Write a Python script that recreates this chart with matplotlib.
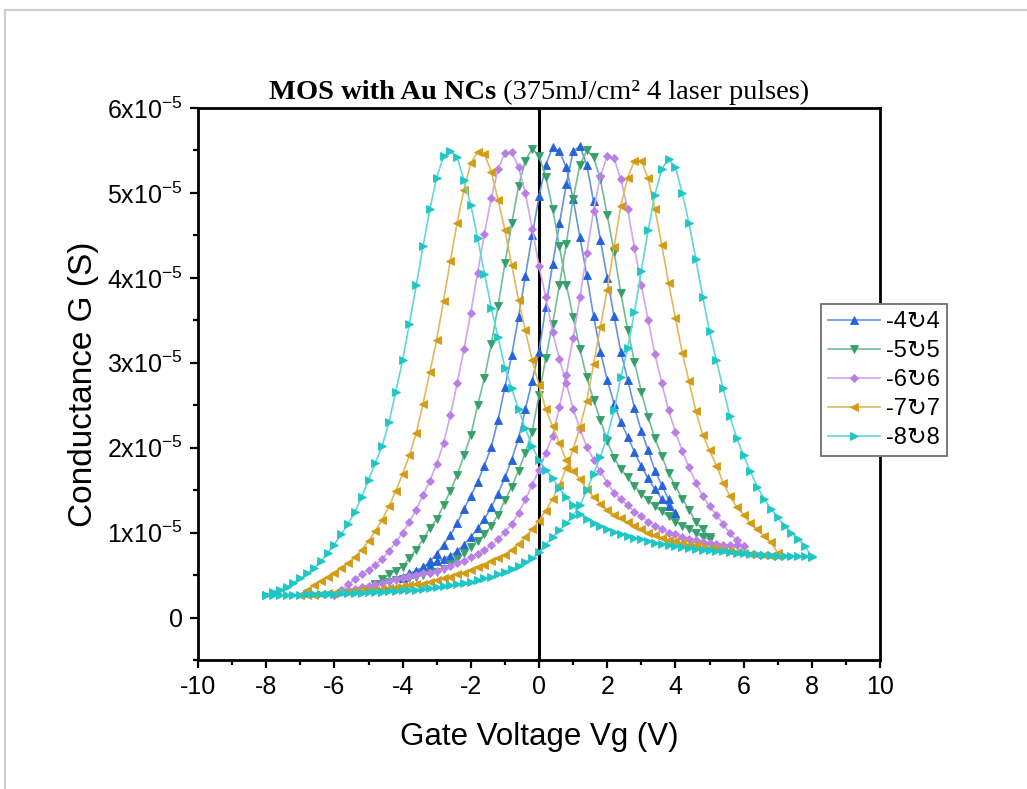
import numpy as np
import matplotlib
matplotlib.use("Agg")
import matplotlib.pyplot as plt
from matplotlib.colors import to_rgb
from matplotlib.lines import Line2D
from matplotlib.ticker import MultipleLocator, FuncFormatter
from matplotlib.offsetbox import TextArea, HPacker, AnchoredOffsetbox

plt.rcParams['font.family'] = ['Liberation Sans', 'DejaVu Sans']
plt.rcParams['mathtext.fontset'] = 'custom'
plt.rcParams['mathtext.rm'] = 'Liberation Sans'
plt.rcParams['mathtext.it'] = 'Liberation Sans:italic'
plt.rcParams['mathtext.bf'] = 'Liberation Sans:bold'

# Sweep amplitudes (V) and voltage step of each loop
sweep_limits = [4, 5, 6, 7, 8]
step = 0.2
labels = ["-4\u21bb4", "-5\u21bb5", "-6\u21bb6", "-7\u21bb7", "-8\u21bb8"]

# Conductance in units of 1e-5 S, sampled every 0.2 V from -Vmax to +Vmax
# up = sweep from -Vmax to +Vmax, down = return sweep (listed from -Vmax to +Vmax)
G_up_4 = [0.47, 0.51, 0.55, 0.59, 0.66, 0.75, 0.86, 0.97, 1.11, 1.28,
          1.43, 1.60, 1.79, 2.01, 2.33, 2.71, 3.09, 3.54, 4.02, 4.50,
          4.96, 5.33, 5.54, 5.49, 5.30, 4.93, 4.48, 4.03, 3.55, 3.13,
          2.80, 2.52, 2.30, 2.13, 1.95, 1.78, 1.64, 1.51, 1.40, 1.31,
          1.23]
G_down_4 = [0.48, 0.52, 0.55, 0.59, 0.62, 0.66, 0.69, 0.73, 0.78, 0.86,
            0.95, 1.05, 1.16, 1.30, 1.46, 1.65, 1.86, 2.11, 2.45, 2.79,
            3.13, 3.66, 4.16, 4.64, 5.10, 5.49, 5.55, 5.33, 4.90, 4.45,
            4.00, 3.55, 3.13, 2.80, 2.47, 2.20, 1.97, 1.73, 1.56, 1.39,
            1.23]

G_up_5 = [0.34, 0.40, 0.45, 0.51, 0.55, 0.60, 0.70, 0.80, 0.92, 1.05,
          1.16, 1.32, 1.49, 1.68, 1.91, 2.15, 2.50, 2.82, 3.22, 3.67,
          4.17, 4.64, 5.08, 5.38, 5.52, 5.44, 5.19, 4.81, 4.37, 3.92,
          3.54, 3.16, 2.83, 2.56, 2.33, 2.08, 1.88, 1.75, 1.65, 1.55,
          1.46, 1.38, 1.31, 1.25, 1.19, 1.13, 1.08, 1.04, 0.99, 0.95,
          0.92]
G_down_5 = [0.34, 0.38, 0.40, 0.42, 0.44, 0.45, 0.47, 0.48, 0.50, 0.52,
            0.54, 0.57, 0.63, 0.69, 0.76, 0.83, 0.90, 0.98, 1.08, 1.21,
            1.38, 1.54, 1.73, 1.94, 2.19, 2.62, 3.06, 3.46, 3.92, 4.40,
            4.93, 5.33, 5.50, 5.42, 5.16, 4.74, 4.31, 3.82, 3.39, 3.01,
            2.66, 2.36, 2.11, 1.90, 1.70, 1.55, 1.40, 1.27, 1.12, 1.04,
            0.95]

G_up_6 = [0.27, 0.33, 0.39, 0.45, 0.51, 0.56, 0.62, 0.69, 0.78, 0.89,
          1.00, 1.13, 1.27, 1.44, 1.61, 1.81, 2.05, 2.38, 2.76, 3.16,
          3.59, 4.06, 4.52, 4.94, 5.28, 5.47, 5.48, 5.30, 5.00, 4.58,
          4.14, 3.77, 3.36, 3.04, 2.76, 2.46, 2.22, 2.01, 1.86, 1.72,
          1.59, 1.47, 1.39, 1.32, 1.24, 1.19, 1.13, 1.08, 1.04, 1.00,
          0.98, 0.95, 0.93, 0.91, 0.89, 0.88, 0.87, 0.86, 0.85, 0.85,
          0.84]
G_down_6 = [0.27, 0.30, 0.32, 0.34, 0.36, 0.37, 0.39, 0.41, 0.43, 0.45,
            0.47, 0.49, 0.50, 0.52, 0.53, 0.55, 0.58, 0.61, 0.64, 0.67,
            0.71, 0.75, 0.79, 0.85, 0.92, 1.01, 1.10, 1.23, 1.39, 1.56,
            1.74, 1.94, 2.14, 2.48, 2.86, 3.29, 3.77, 4.29, 4.79, 5.20,
            5.43, 5.41, 5.16, 4.81, 4.35, 3.92, 3.50, 3.10, 2.76, 2.44,
            2.19, 1.96, 1.77, 1.59, 1.43, 1.31, 1.21, 1.10, 0.99, 0.91,
            0.84]

G_up_7 = [0.26, 0.32, 0.38, 0.43, 0.48, 0.53, 0.58, 0.64, 0.71, 0.80,
          0.90, 1.02, 1.15, 1.31, 1.49, 1.69, 1.91, 2.17, 2.52, 2.89,
          3.27, 3.73, 4.20, 4.65, 5.04, 5.35, 5.48, 5.46, 5.25, 4.92,
          4.56, 4.15, 3.74, 3.38, 3.03, 2.74, 2.45, 2.25, 2.05, 1.85,
          1.73, 1.63, 1.51, 1.42, 1.34, 1.27, 1.21, 1.17, 1.12, 1.08,
          1.04, 1.00, 0.97, 0.94, 0.91, 0.90, 0.88, 0.86, 0.85, 0.83,
          0.82, 0.81, 0.79, 0.78, 0.77, 0.76, 0.75, 0.74, 0.74, 0.73,
          0.73]
G_down_7 = [0.26, 0.27, 0.27, 0.28, 0.29, 0.29, 0.30, 0.30, 0.31, 0.32,
            0.32, 0.33, 0.34, 0.35, 0.36, 0.37, 0.38, 0.39, 0.40, 0.42,
            0.44, 0.46, 0.48, 0.51, 0.53, 0.56, 0.59, 0.62, 0.66, 0.70,
            0.74, 0.80, 0.87, 0.95, 1.04, 1.14, 1.26, 1.40, 1.56, 1.76,
            1.98, 2.24, 2.55, 2.98, 3.42, 3.86, 4.36, 4.85, 5.18, 5.38,
            5.38, 5.17, 4.81, 4.39, 3.94, 3.53, 3.12, 2.78, 2.43, 2.15,
            1.97, 1.79, 1.59, 1.43, 1.30, 1.21, 1.11, 1.04, 0.96, 0.89,
            0.76]

G_up_8 = [0.27, 0.30, 0.33, 0.36, 0.41, 0.46, 0.52, 0.58, 0.66, 0.76,
          0.86, 0.98, 1.10, 1.24, 1.42, 1.62, 1.82, 2.02, 2.30, 2.66,
          3.03, 3.46, 3.91, 4.37, 4.81, 5.18, 5.43, 5.49, 5.42, 5.15,
          4.86, 4.47, 4.05, 3.65, 3.30, 2.94, 2.70, 2.45, 2.23, 2.02,
          1.85, 1.74, 1.64, 1.52, 1.42, 1.32, 1.22, 1.16, 1.11, 1.08,
          1.04, 1.01, 0.98, 0.96, 0.94, 0.92, 0.90, 0.88, 0.87, 0.85,
          0.84, 0.83, 0.82, 0.81, 0.80, 0.79, 0.78, 0.78, 0.77, 0.76,
          0.76, 0.75, 0.75, 0.74, 0.74, 0.73, 0.73, 0.72, 0.72, 0.72,
          0.71]
G_down_8 = [0.27, 0.27, 0.27, 0.27, 0.27, 0.27, 0.28, 0.28, 0.28, 0.28,
            0.28, 0.29, 0.29, 0.29, 0.29, 0.30, 0.30, 0.30, 0.31, 0.31,
            0.32, 0.32, 0.33, 0.34, 0.35, 0.36, 0.37, 0.38, 0.39, 0.41,
            0.42, 0.44, 0.46, 0.48, 0.51, 0.54, 0.57, 0.61, 0.65, 0.70,
            0.77, 0.86, 0.95, 1.03, 1.11, 1.20, 1.32, 1.50, 1.69, 1.89,
            2.13, 2.44, 2.83, 3.17, 3.60, 4.08, 4.56, 4.98, 5.28, 5.40,
            5.30, 5.00, 4.64, 4.22, 3.78, 3.37, 3.03, 2.70, 2.37, 2.11,
            1.91, 1.72, 1.54, 1.40, 1.28, 1.18, 1.08, 1.00, 0.93, 0.84,
            0.72]

up_sweeps = [G_up_4, G_up_5, G_up_6, G_up_7, G_up_8]
down_sweeps = [G_down_4, G_down_5, G_down_6, G_down_7, G_down_8]

colors = ["#2563d9", "#36a06a", "#b97fe6", "#d49b14", "#1fc6c6"]
markers = ["^", "v", "D", "<", ">"]
msizes = [5.8, 5.8, 4.4, 5.8, 5.8]


def lighten(c, f):
    r, g, b = to_rgb(c)
    return (r + (1 - r) * f, g + (1 - g) * f, b + (1 - b) * f)


fig = plt.figure(figsize=(10.27, 7.89), dpi=100)
ax = fig.add_axes([198 / 1027, 129 / 789, 682 / 1027, 552 / 789])

for vmax, g_up, g_down, c, m, ms, lab in zip(sweep_limits, up_sweeps, down_sweeps,
                                              colors, markers, msizes, labels):
    v = np.round(np.arange(-vmax, vmax + step / 2, step), 1)
    x = np.concatenate([v, v[::-1]])
    y = np.concatenate([g_up, g_down[::-1]]) * 1e-5
    ax.plot(x, y, color=lighten(c, 0.3), lw=1.2, marker=m, ms=ms,
            mfc=c, mec=c, mew=0.6, label=lab, zorder=3)

# vertical line at Vg = 0
ax.axvline(0, color="black", lw=2.2, zorder=2)

ax.set_xlim(-10, 10)
ax.set_ylim(-0.5e-5, 6e-5)
ax.xaxis.set_major_locator(MultipleLocator(2))
ax.xaxis.set_minor_locator(MultipleLocator(1))
ax.yaxis.set_major_locator(MultipleLocator(1e-5))
ax.yaxis.set_minor_locator(MultipleLocator(0.5e-5))


def yfmt(val, pos):
    n = int(round(val / 1e-5))
    if n == 0:
        return "0"
    return f"{n}x10$^{{-5}}$"


ax.yaxis.set_major_formatter(FuncFormatter(yfmt))
ax.xaxis.set_major_formatter(FuncFormatter(lambda v, p: f"{int(round(v))}"))

for s in ax.spines.values():
    s.set_linewidth(2.0)
ax.tick_params(which="both", direction="out", top=False, right=False, width=1.6)
ax.tick_params(which="major", length=6, labelsize=18, pad=5)
ax.tick_params(which="minor", length=3.5)

ax.set_xlabel("Gate Voltage Vg (V)", fontsize=22.5, labelpad=16)
ax.set_ylabel("Conductance G (S)", fontsize=24, labelpad=6)

# Title with bold lead-in and regular remainder
t1 = TextArea("MOS with Au NCs",
              textprops=dict(family="Liberation Serif", weight="bold", size=20.5))
t2 = TextArea(" (375mJ/cm\u00b2 4 laser pulses)",
              textprops=dict(family="Liberation Serif", size=20.5))
tbox = HPacker(children=[t1, t2], align="baseline", pad=0, sep=0)
ab = AnchoredOffsetbox(loc="lower center", child=tbox, pad=0, borderpad=0,
                       frameon=False, bbox_to_anchor=(0.5, 1.006),
                       bbox_transform=ax.transAxes)
ax.add_artist(ab)

leg = ax.legend(loc="upper left", bbox_to_anchor=(0.913, 0.645),
                fontsize=17, frameon=True, fancybox=False, framealpha=1,
                edgecolor="#7a7a7a", handlelength=2.2, labelspacing=0.3,
                borderpad=0.3, handletextpad=0.25, borderaxespad=0)
leg.get_frame().set_linewidth(1.4)
leg.set_zorder(10)

# thin frame along the top and left edge of the figure
fig.add_artist(Line2D([5 / 1027, 1], [1 - 10 / 789, 1 - 10 / 789],
                      transform=fig.transFigure, color="#cfcfcf", lw=1.6))
fig.add_artist(Line2D([5 / 1027, 5 / 1027], [0, 1 - 10 / 789],
                      transform=fig.transFigure, color="#cfcfcf", lw=1.6))

fig.savefig("out.png", dpi=100)
